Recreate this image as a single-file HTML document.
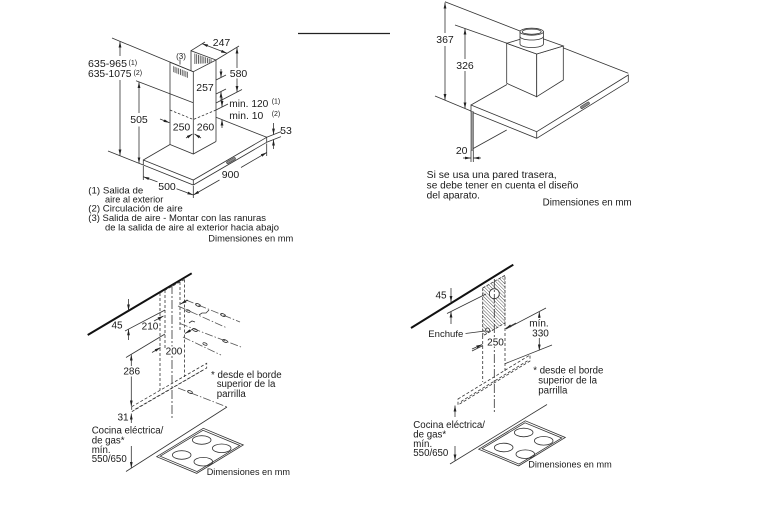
<!DOCTYPE html>
<html><head><meta charset="utf-8">
<style>
html,body{margin:0;padding:0;background:#fff;}
svg{display:block;}
text{font-family:"Liberation Sans",Arial,sans-serif;fill:#1a1a1a;}
</style></head><body>
<svg width="769" height="517" viewBox="0 0 769 517" xmlns="http://www.w3.org/2000/svg">
<defs>
<marker id="ar" viewBox="0 0 10 10" refX="10" refY="5" markerWidth="6" markerHeight="2.8" markerUnits="userSpaceOnUse" orient="auto-start-reverse" preserveAspectRatio="none"><path d="M0,0L10,5L0,10z" fill="#222"/></marker>
<pattern id="vg" width="1.8" height="20" patternUnits="userSpaceOnUse"><rect width="0.9" height="20" fill="#555"/></pattern>
<pattern id="hatch" width="2.4" height="2.4" patternUnits="userSpaceOnUse" patternTransform="rotate(-45)"><line x1="0" y1="0" x2="0" y2="2.4" stroke="#444" stroke-width="0.9"/></pattern>
</defs>
<rect width="769" height="517" fill="#fff"/>

<!-- top middle rule -->
<line x1="298" y1="33.5" x2="390" y2="33.5" stroke="#222" stroke-width="1.2"/>

<!-- ============ TOP LEFT ============ -->
<g fill="none" stroke="#333" stroke-width="0.8">
  <line x1="112" y1="38" x2="193.3" y2="71.7"/>
  <line x1="108" y1="151" x2="143.3" y2="165"/>
  <line x1="136" y1="80.8" x2="193.3" y2="102.7"/>
  <path d="M120,56 V41.5" marker-end="url(#ar)"/>
  <path d="M120,80 V155.5" marker-end="url(#ar)"/>
  <path d="M139,113 V82" marker-end="url(#ar)"/>
  <path d="M139,126.5 V163.3" marker-end="url(#ar)"/>
  <!-- chimney -->
  <polyline points="191,70.9 191,50.7 216,60 216,141.5"/>
  <polyline points="170,144.5 170,62.3 193.3,71.7 216,60"/>
  <line x1="193.3" y1="71.7" x2="193.3" y2="154"/>
  <polyline points="170,144.5 193.3,154 216,141.5"/>
  <polyline points="170,110 193.3,119.5 216,110" stroke-dasharray="2.5,1.8"/>
  <line x1="180" y1="59.5" x2="180" y2="64.5"/>
  <!-- 247 -->
  <line x1="191" y1="50.7" x2="205" y2="42"/>
  <line x1="216" y1="60" x2="239" y2="46"/>
  <path d="M202,43.6 L227,53.3" marker-start="url(#ar)" marker-end="url(#ar)"/>
  <!-- 580 -->
  <line x1="216" y1="103" x2="242" y2="89.5"/>
  <path d="M237,68 V47.5" marker-end="url(#ar)"/>
  <path d="M237,78.5 V92" marker-end="url(#ar)"/>
  <!-- 257 -->
  <line x1="216" y1="80" x2="226" y2="75"/>
  <line x1="216" y1="94" x2="226" y2="89"/>
  <path d="M221,69 V77.5" marker-end="url(#ar)"/>
  <path d="M221,101 V91.5" marker-end="url(#ar)"/>
  <!-- min 120 / 10 -->
  <line x1="216" y1="110" x2="228" y2="104"/>
  <path d="M222,97 V107" marker-end="url(#ar)"/>
  <path d="M222,128 V119.5" marker-end="url(#ar)"/>
  <!-- 250/260 arrows -->
  <path d="M160,119 L169.5,122.8" marker-end="url(#ar)"/>
  <path d="M186,138 L192.5,134" marker-end="url(#ar)"/>
  <path d="M201,138 L194.5,134" marker-end="url(#ar)"/>
  <!-- hood -->
  <line x1="143.3" y1="160" x2="170" y2="144.5"/>
  <polygon points="143.3,160 193.3,180 266.7,137.3 266.7,142.3 193.3,185 143.3,165"/>
  <line x1="193.3" y1="180" x2="193.3" y2="185"/>
  <line x1="216" y1="117.3" x2="266.7" y2="137.3"/>
  <!-- 53 -->
  <line x1="266.7" y1="137.3" x2="281" y2="131.6"/>
  <line x1="266.7" y1="142.3" x2="281" y2="136.6"/>
  <path d="M273.5,123 V134.6" marker-end="url(#ar)"/>
  <path d="M273.5,149 V139.6" marker-end="url(#ar)"/>
  <!-- 900 -->
  <line x1="193.3" y1="186" x2="193.3" y2="198"/>
  <line x1="266.7" y1="143.5" x2="266.7" y2="156"/>
  <path d="M219.5,180 L193.3,195" marker-end="url(#ar)"/>
  <path d="M241,167.5 L266.7,152.5" marker-end="url(#ar)"/>
  <!-- 500 -->
  <line x1="143.3" y1="166" x2="143.3" y2="180"/>
  <path d="M157.5,181.9 L143.3,176.7" marker-end="url(#ar)"/>
  <path d="M176.5,188.8 L193.3,195" marker-end="url(#ar)"/>
</g>
<polygon points="173,66 188,72 188,78 173,72" fill="url(#vg)"/>
<polygon points="194,53.2 212,59.5 212,63 194,64" fill="url(#vg)"/>
<rect x="226" y="159.4" width="10" height="2.4" rx="1" transform="rotate(-30 231 160.6)" fill="#888" stroke="#333" stroke-width="0.5"/>

<g font-size="10.5">
  <text x="88" y="67" textLength="39" lengthAdjust="spacingAndGlyphs">635-965</text>
  <text x="88" y="77" textLength="43.4" lengthAdjust="spacingAndGlyphs">635-1075</text>
  <text x="221.5" y="45.8" text-anchor="middle">247</text>
  <text x="238.5" y="76.8" text-anchor="middle">580</text>
  <text x="205" y="90.8" text-anchor="middle">257</text>
  <text x="229.3" y="106.8" textLength="39" lengthAdjust="spacingAndGlyphs">min. 120</text>
  <text x="229.3" y="118.8" textLength="34" lengthAdjust="spacingAndGlyphs">min. 10</text>
  <text x="139" y="122.8" text-anchor="middle">505</text>
  <text x="181.5" y="130.3" text-anchor="middle">250</text>
  <text x="205.5" y="130.3" text-anchor="middle">260</text>
  <text x="286" y="133.8" text-anchor="middle">53</text>
  <text x="230.5" y="177.8" text-anchor="middle">900</text>
  <text x="167" y="189.8" text-anchor="middle">500</text>
</g>
<g font-size="7">
  <text x="128.5" y="64.8">(1)</text>
  <text x="133.5" y="74.8">(2)</text>
  <text x="271.7" y="103.5">(1)</text>
  <text x="271.7" y="115.8">(2)</text>
</g>
<text x="181" y="58.9" font-size="8" text-anchor="middle">(3)</text>

<text x="88.3" y="193.4" font-size="9.5" textLength="55" lengthAdjust="spacingAndGlyphs">(1) Salida de</text>
<text x="105" y="202.6" font-size="8.8" textLength="58.3" lengthAdjust="spacingAndGlyphs">aire al exterior</text>
<text x="88.3" y="211.7" font-size="9.5" textLength="94.4" lengthAdjust="spacingAndGlyphs">(2) Circulación de aire</text>
<text x="88.3" y="221.1" font-size="9.5" textLength="177.7" lengthAdjust="spacingAndGlyphs">(3) Salida de aire - Montar con las ranuras</text>
<text x="105" y="230.5" font-size="8.8" textLength="174" lengthAdjust="spacingAndGlyphs">de la salida de aire al exterior hacia abajo</text>
<text x="208.3" y="241.6" font-size="9.3" textLength="85" lengthAdjust="spacingAndGlyphs">Dimensiones en mm</text>

<!-- ============ TOP RIGHT ============ -->
<g fill="none" stroke="#333" stroke-width="0.8">
  <line x1="445" y1="1.7" x2="628.3" y2="73.3"/>
  <line x1="455" y1="25" x2="507" y2="43.3"/>
  <line x1="435" y1="96" x2="471" y2="111"/>
  <path d="M445,33 V2.5" marker-end="url(#ar)"/>
  <path d="M445,46 V100" marker-end="url(#ar)"/>
  <path d="M465,59 V28.5" marker-end="url(#ar)"/>
  <path d="M465,71 V108.5" marker-end="url(#ar)"/>
  <line x1="471" y1="105" x2="507" y2="84.5"/>
  <polygon points="471,105 536.7,131.7 628.3,75 628.3,81.7 536.7,138.3 471,111.7" fill="#fff"/>
  <line x1="536.7" y1="131.7" x2="536.7" y2="138.3"/>
  <!-- motor box -->
  <polygon points="506.7,43.3 536.7,54 536.7,96.7 506.7,83.3" fill="#fff"/>
  <polygon points="536.7,54 563.3,46 563.3,80 536.7,96.7" fill="#fff"/>
  <polygon points="506.7,43.3 533.3,35.3 563.3,46 536.7,54" fill="#fff"/>
  <!-- cylinder -->
  <path d="M520,31.7 V44 A11.7,3.5 0 0 0 543.4,44 V31.7 Z" fill="#fff"/>
  <path d="M520,36.5 A11.7,3.5 0 0 0 543.4,36.5"/>
  <ellipse cx="531.7" cy="31.7" rx="11.7" ry="3.5" fill="#fff"/>
  <ellipse cx="531.7" cy="31.7" rx="9.5" ry="2.6"/>
  <!-- back panel -->
  <line x1="473.3" y1="148.5" x2="506.7" y2="130"/>
  <!-- 20 -->
  <line x1="471" y1="150.5" x2="471" y2="162"/>
  <line x1="473.3" y1="150.5" x2="473.3" y2="162"/>
  <path d="M463,158 H471" marker-end="url(#ar)"/>
  <path d="M481,158 H473.3" marker-end="url(#ar)"/>
</g>
<rect x="471" y="111.7" width="2.3" height="38.5" fill="#999" stroke="#333" stroke-width="0.6"/>
<rect x="580" y="104" width="10" height="2.6" rx="1" transform="rotate(-31.7 585 105.3)" fill="#888" stroke="#333" stroke-width="0.5"/>
<g font-size="10.5">
  <text x="445" y="43" text-anchor="middle">367</text>
  <text x="465" y="68.8" text-anchor="middle">326</text>
  <text x="461.7" y="153.8" text-anchor="middle">20</text>
</g>
<text x="426.7" y="177.9" font-size="10" textLength="130" lengthAdjust="spacingAndGlyphs">Si se usa una pared trasera,</text>
<text x="426.7" y="188.6" font-size="10" textLength="151.6" lengthAdjust="spacingAndGlyphs">se debe tener en cuenta el diseño</text>
<text x="426.7" y="198.6" font-size="10" textLength="53.3" lengthAdjust="spacingAndGlyphs">del aparato.</text>
<text x="542.7" y="205.3" font-size="9.7" textLength="89" lengthAdjust="spacingAndGlyphs">Dimensiones en mm</text>

<!-- hob definition -->
<g id="hob" fill="none" stroke="#333" stroke-width="0.8">
  <polygon points="156.7,456.7 203.3,428.3 243.3,445 196.7,473.4"/>
  <polygon points="160.2,456.2 203,430.3 239.8,445.5 197,471.6"/>
  <ellipse cx="201.7" cy="440" rx="9.3" ry="4.3"/>
  <ellipse cx="221.7" cy="448.3" rx="9.3" ry="4.3"/>
  <ellipse cx="181.7" cy="455" rx="9.3" ry="4.3"/>
  <ellipse cx="203.3" cy="461.7" rx="9.3" ry="4.3"/>
</g>
<use href="#hob" transform="translate(322,-7.5)"/>

<!-- ============ BOTTOM LEFT ============ -->
<line x1="87.7" y1="335" x2="191.7" y2="273.3" stroke="#111" stroke-width="2"/>
<g fill="none" stroke="#333" stroke-width="0.8">
  <g stroke-dasharray="3,2">
    <line x1="160" y1="293" x2="160" y2="390"/>
    <line x1="165" y1="290" x2="165" y2="350"/>
    <line x1="180" y1="282" x2="180" y2="330"/>
    <line x1="184.5" y1="279.5" x2="184.5" y2="377"/>
    <line x1="160" y1="293" x2="184.5" y2="279.5"/>
    <polygon points="131.7,406.7 206.7,363.3 206.7,368 131.7,411.7"/>
    <line x1="135" y1="409.3" x2="204" y2="369.5"/>
  </g>
  <line x1="172" y1="285" x2="172" y2="420" stroke-dasharray="9,2,2,2"/>
  <g stroke-dasharray="8,2,1.5,2" stroke="#555">
    <line x1="186" y1="300" x2="240" y2="322"/>
    <line x1="178" y1="306" x2="227" y2="328"/>
    <line x1="180" y1="323.5" x2="241" y2="347"/>
    <line x1="183" y1="337" x2="221" y2="355"/>
    <line x1="178" y1="388" x2="227" y2="407"/>
  </g>
  <ellipse cx="198" cy="305" rx="2.5" ry="1.2" transform="rotate(22 198 305)"/>
  <ellipse cx="223" cy="315" rx="2.5" ry="1.2" transform="rotate(22 223 315)"/>
  <ellipse cx="195" cy="330" rx="2.5" ry="1.2" transform="rotate(22 195 330)"/>
  <ellipse cx="225" cy="341" rx="2.5" ry="1.2" transform="rotate(22 225 341)"/>
  <ellipse cx="190" cy="392" rx="2.5" ry="1.2" transform="rotate(22 190 392)"/>
  <ellipse cx="188" cy="311" rx="2.2" ry="1.1" transform="rotate(22 188 311)"/>
  <ellipse cx="205" cy="344" rx="2.2" ry="1.1" transform="rotate(22 205 344)"/>
  <path d="M199,315 l3,-2 l4,0 l3,-3"/>
  <path d="M189,323 l3,-2 l3,1"/>
  <!-- 45 -->
  <path d="M128.5,299 V310.5" marker-end="url(#ar)"/>
  <line x1="125" y1="331" x2="165" y2="310"/>
  <path d="M128.5,340 V329.3" marker-end="url(#ar)"/>
  <!-- 210 / 200 -->
  <path d="M154,321 L163.5,316" marker-end="url(#ar)"/>
  <path d="M188,300 L180.5,304" marker-end="url(#ar)"/>
  <path d="M152,352.5 L160.5,347.5" marker-end="url(#ar)"/>
  <path d="M193,329 L185,333.5" marker-end="url(#ar)"/>
  <!-- 286 -->
  <line x1="126" y1="357.5" x2="165" y2="334"/>
  <path d="M131.3,366 V354.6" marker-end="url(#ar)"/>
  <path d="M131.3,376.5 V406.5" marker-end="url(#ar)"/>
  <!-- 31 / cocina -->
  <path d="M131.3,423 V413.5" marker-end="url(#ar)"/>
  <path d="M131.3,446 V468" marker-end="url(#ar)"/>
  <line x1="126" y1="471.5" x2="227" y2="407"/>
</g>
<rect x="166" y="346.5" width="15.5" height="9" fill="#fff"/>
<g font-size="10">
  <text x="117" y="328.6" text-anchor="middle">45</text>
  <text x="150" y="329.6" text-anchor="middle">210</text>
  <text x="174" y="354.6" text-anchor="middle">200</text>
  <text x="131.7" y="374.6" text-anchor="middle">286</text>
  <text x="123" y="420.3" text-anchor="middle">31</text>
</g>
<g font-size="9.7">
  <text x="211" y="377.8" textLength="70.7" lengthAdjust="spacingAndGlyphs">* desde el borde</text>
  <text x="216.7" y="386.8">superior de la</text>
  <text x="216.7" y="396.8">parrilla</text>
  <text x="91.7" y="433.5" textLength="71.6" lengthAdjust="spacingAndGlyphs">Cocina eléctrica/</text>
  <text x="91.7" y="443.5">de gas*</text>
  <text x="91.7" y="452.8">mín.</text>
  <text x="91.7" y="461.8">550/650</text>
</g>
<text x="206.7" y="475" font-size="9.2" textLength="83.3" lengthAdjust="spacingAndGlyphs">Dimensiones en mm</text>

<!-- ============ BOTTOM RIGHT ============ -->
<line x1="411" y1="328" x2="513.3" y2="264.7" stroke="#111" stroke-width="2"/>
<g fill="none" stroke="#333" stroke-width="0.8">
  <polygon points="482.7,288 505,275.3 505,323 482.7,336" fill="url(#hatch)" stroke-dasharray="3,1.5"/>
  <circle cx="494.3" cy="293.7" r="5" fill="#fff"/>
  <g stroke-dasharray="3,2">
    <line x1="482.7" y1="336" x2="482.7" y2="382"/>
    <line x1="505" y1="323" x2="505" y2="372"/>
    <polygon points="458,399 530,355 530,361 458,405"/>
    <line x1="461" y1="401.5" x2="528" y2="360.5"/>
  </g>
  <line x1="494.3" y1="279" x2="494.3" y2="412" stroke-dasharray="9,2,2,2"/>
  <!-- 45 -->
  <path d="M451,288 V302" marker-end="url(#ar)"/>
  <line x1="447" y1="313.5" x2="486" y2="294"/>
  <path d="M451,324 V311.5" marker-end="url(#ar)"/>
  <!-- enchufe -->
  <line x1="465.5" y1="333.5" x2="485" y2="331"/>
  <circle cx="487.5" cy="330" r="2"/>
  <!-- 250 -->
  <line x1="472" y1="351" x2="483" y2="345.5"/>
  <path d="M472,349 L482.2,344.5" marker-end="url(#ar)"/>
  <path d="M516,323 L505.5,328.5" marker-end="url(#ar)"/>
  <!-- min 330 -->
  <line x1="506" y1="329" x2="546" y2="308"/>
  <path d="M539.3,318 V311.8" marker-end="url(#ar)"/>
  <path d="M539.3,338 V350.5" marker-end="url(#ar)"/>
  <line x1="505" y1="363.7" x2="552" y2="345"/>
  <!-- cocina -->
  <path d="M455,417 V405.5" marker-end="url(#ar)"/>
  <path d="M455,446 V460.5" marker-end="url(#ar)"/>
  <line x1="450" y1="464" x2="547" y2="404.5"/>
</g>
<rect x="487.5" y="337.5" width="16" height="9" fill="#fff"/>
<g font-size="10">
  <text x="441" y="298.6" text-anchor="middle">45</text>
  <text x="495.5" y="345.6" text-anchor="middle">250</text>
  <text x="539" y="326.6" text-anchor="middle">mín.</text>
  <text x="540.5" y="336.3" text-anchor="middle">330</text>
</g>
<text x="428.3" y="337" font-size="9.5" textLength="35" lengthAdjust="spacingAndGlyphs">Enchufe</text>
<g font-size="9.7">
  <text x="533.3" y="373.5" textLength="70" lengthAdjust="spacingAndGlyphs">* desde el borde</text>
  <text x="538.3" y="383.5">superior de la</text>
  <text x="538.3" y="393.5">parrilla</text>
  <text x="413.3" y="427.8" textLength="71.7" lengthAdjust="spacingAndGlyphs">Cocina eléctrica/</text>
  <text x="413.3" y="437.5">de gas*</text>
  <text x="413.3" y="446.8">mín.</text>
  <text x="413.3" y="455.8">550/650</text>
</g>
<text x="528.3" y="467.3" font-size="9.2" textLength="83.4" lengthAdjust="spacingAndGlyphs">Dimensiones en mm</text>
</svg>
</body></html>
